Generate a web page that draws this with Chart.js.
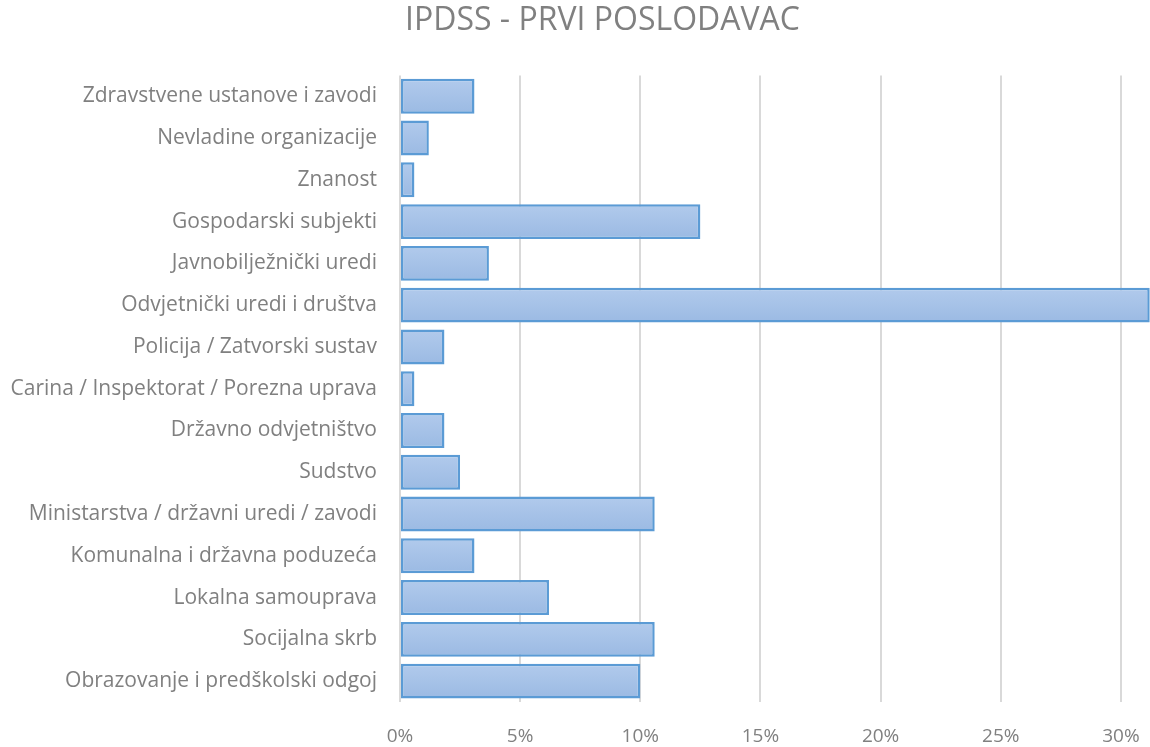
<!DOCTYPE html>
<html>
<head>
<meta charset="utf-8">
<script src="https://cdn.jsdelivr.net/npm/chart.js@4.4.0/dist/chart.umd.min.js"></script>
<style>
  html, body { margin: 0; padding: 0; overflow: hidden; background: #fff; }
  #wrap { width: 1150px; height: 747px; overflow: hidden; }
</style>
</head>
<body>
<div id="wrap"><canvas id="chart-bar" width="1210" height="747"></canvas></div>
<script>
// categories, top to bottom as in the picture
const categories = [
    'Zdravstvene ustanove i zavodi',
    'Nevladine organizacije',
    'Znanost',
    'Gospodarski subjekti',
    'Javnobilježnički uredi',
    'Odvjetnički uredi i društva',
    'Policija / Zatvorski sustav',
    'Carina / Inspektorat / Porezna uprava',
    'Državno odvjetništvo',
    'Sudstvo',
    'Ministarstva / državni uredi / zavodi',
    'Komunalna i državna poduzeća',
    'Lokalna samouprava',
    'Socijalna skrb',
    'Obrazovanje i predškolski odgoj'
];
// share of graduates (%)
const shares = [3.1, 1.2, 0.6, 12.5, 3.7, 31.2, 1.85, 0.6, 1.85, 2.5, 10.6, 3.1, 6.2, 10.6, 10.0];
const tickStep = 5;

const fontFamily = "'Open Sans', sans-serif";
const textGray = '#808080';

// vertical gradient per bar, lighter at the top
function barFill(context) {
    const chart = context.chart;
    const yScale = chart.scales && chart.scales.y;
    if (!yScale || !chart.chartArea) return '#a5c2e7';
    const yc = yScale.getPixelForValue(context.dataIndex);
    const g = chart.ctx.createLinearGradient(0, yc - 17, 0, yc + 17);
    g.addColorStop(0, '#b1caec');
    g.addColorStop(1, '#9bbae3');
    return g;
}

const data = {
    labels: categories,
    datasets: [{
        data: shares,
        backgroundColor: barFill,
        borderColor: '#5b9bd5',
        borderWidth: 2.5,
        borderSkipped: false,
        categoryPercentage: 0.836,
        barPercentage: 1.0
    }]
};

const config = {
    type: 'bar',
    data,
    options: {
        indexAxis: 'y',
        responsive: false,
        animation: false,
        layout: { padding: { top: 2, right: 5, left: 0, bottom: 1 } },
        plugins: {
            legend: { display: false },
            tooltip: { enabled: false },
            title: {
                display: true,
                text: 'IPDSS - PRVI POSLODAVAC',
                color: textGray,
                font: { family: fontFamily, size: 32, weight: 'normal' },
                padding: { top: 0, bottom: 35 }
            }
        },
        scales: {
            x: {
                min: 0,
                max: 33.5,
                grid: { color: '#d9d9d9', lineWidth: 2, drawTicks: false },
                border: { display: false },
                ticks: {
                    stepSize: tickStep,
                    includeBounds: false,
                    padding: 23,
                    color: textGray,
                    font: { family: fontFamily, size: 19 },
                    callback: v => v + '%'
                },
                afterFit: scale => { scale.height = 44; }
            },
            y: {
                grid: { display: false, drawTicks: false },
                border: { display: false },
                ticks: {
                    padding: 23,
                    color: textGray,
                    font: { family: fontFamily, size: 21 }
                },
                afterFit: scale => { scale.width = 400; }
            }
        }
    }
};

const myChart = new Chart(document.getElementById('chart-bar'), config);
</script>
</body>
</html>
